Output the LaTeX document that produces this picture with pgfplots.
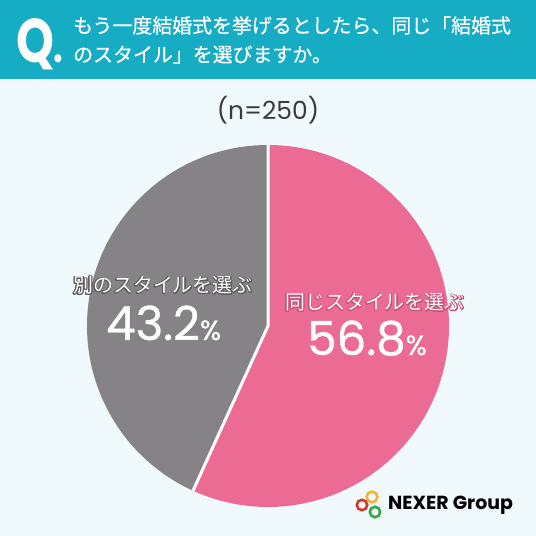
\documentclass[border=0pt]{standalone}
\usepackage{pgfplots}
\usepackage{pgfplotstable}
\pgfplotsset{compat=1.18}
\usepackage{fontspec}
\usepackage{contour}
\contourlength{0.7pt}
\contournumber{24}
\setmainfont{Noto Sans CJK JP}
\newfontfamily\jpmed{Noto Sans CJK JP}[FakeBold=0.6]
\newfontfamily\numfont{Poppins}
\newfontfamily\numbold{Poppins}[FakeBold=0.8]
\definecolor{hdr}{HTML}{16ACC4}
\definecolor{bgc}{HTML}{F0FAFC}
\definecolor{pinkc}{HTML}{EB6B95}
\definecolor{grayc}{HTML}{858385}
\definecolor{grayo}{HTML}{5E5C5E}
\definecolor{pinko}{HTML}{C94F78}
\definecolor{txt}{HTML}{3A3A3A}
\definecolor{lgo}{HTML}{F2B233}
\definecolor{lgr}{HTML}{D9362B}
\definecolor{lgg}{HTML}{3AA545}

\pgfplotstableread{
label value
same 56.8
other 43.2
}\piedata

\begin{document}
\begin{tikzpicture}
\useasboundingbox (0bp,0bp) rectangle (536bp,536bp);
\fill[bgc] (0bp,0bp) rectangle (536bp,536bp);
\fill[hdr] (0bp,457bp) rectangle (536bp,536bp);
% header
\node[anchor=base west, white, inner sep=0pt, xscale=0.78] at (16bp,473bp) {\numfont\bfseries\fontsize{62}{62}\selectfont Q\kern-1bp\fontsize{44}{44}\selectfont.};
\node[anchor=base west, white, inner sep=0pt, font=\jpmed\fontsize{20}{20}\selectfont] at (73bp,503bp) {もう一度結婚式を挙げるとしたら、同じ「結婚式};
\node[anchor=base west, white, inner sep=0pt, font=\jpmed\fontsize{20}{20}\selectfont] at (73bp,474bp) {のスタイル」を選びますか。};
\node[anchor=base, txt, inner sep=0pt, font=\numfont\fontsize{25}{25}\selectfont] at (268bp,416bp) {(n=250)};

\pgfplotstablegetelem{0}{value}\of\piedata \let\va\pgfplotsretval
\pgfplotstablegetelem{1}{value}\of\piedata \let\vb\pgfplotsretval
\pgfmathsetmacro{\enda}{90-\va*3.6}

\begin{axis}[at={(268bp,210bp)}, anchor=center, x=181bp, y=181bp,
  xmin=-1, xmax=1, ymin=-1, ymax=1, hide axis, clip=false]
\fill[pinkc] (axis cs:0,0) -- (axis cs:0,1) arc[start angle=90, end angle=\enda, radius=181bp] -- cycle;
\fill[grayc] (axis cs:0,0) -- (axis cs:0,1) arc[start angle=90, end angle=\enda+360, radius=181bp] -- cycle;
\draw[white, line width=3bp] (axis cs:0,1) -- (axis cs:0,0) -- ({cos(\enda)},{sin(\enda)});
\end{axis}

% labels
\node[anchor=base, white, inner sep=0pt, font=\fontsize{20}{20}\selectfont] at (163bp,243bp) {\contour{grayo}{別のスタイルを選ぶ}};
\node[anchor=base west, white, inner sep=0pt] at (106bp,196bp) {\numbold\fontsize{47}{47}\selectfont 43.2\fontsize{28}{28}\selectfont\%};
\node[anchor=base, white, inner sep=0pt, font=\fontsize{20}{20}\selectfont] at (375bp,226bp) {\contour{pinko}{同じスタイルを選ぶ}};
\node[anchor=base west, white, inner sep=0pt] at (307bp,181bp) {\numbold\fontsize{47}{47}\selectfont 56.8\fontsize{28}{28}\selectfont\%};

% logo
\draw[lgo, line width=2.6bp] (372bp,39bp) circle (5.4bp);
\draw[lgr, line width=2.6bp] (362bp,31bp) circle (5.2bp);
\draw[lgg, line width=2.6bp] (375bp,24bp) circle (5.2bp);
\node[anchor=base west, black, inner sep=0pt, font=\numfont\bfseries\fontsize{19}{19}\selectfont] at (388bp,27bp) {NEXER Group};
\end{tikzpicture}
\end{document}
